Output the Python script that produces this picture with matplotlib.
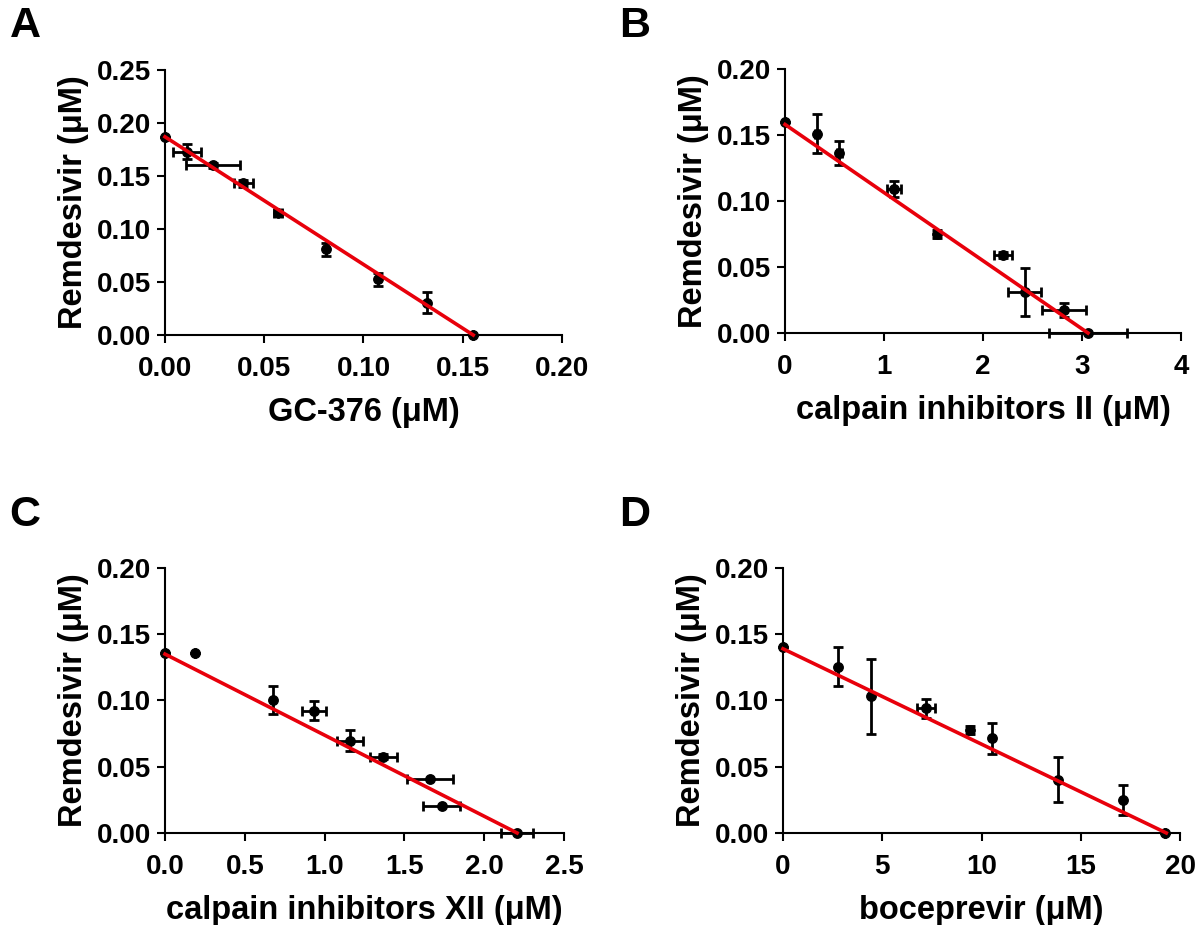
import matplotlib
matplotlib.use('Agg')
import matplotlib.pyplot as plt
from matplotlib.ticker import FormatStrFormatter, MultipleLocator

plt.rcParams['font.family'] = ['Liberation Sans', 'DejaVu Sans']
plt.rcParams['font.weight'] = 'bold'

# Panel A: GC-376
gc_x = [0.0, 0.0112, 0.0243, 0.0395, 0.0571, 0.081, 0.1075, 0.132, 0.1553]
gc_y = [0.187, 0.173, 0.160, 0.143, 0.1154, 0.0808, 0.0525, 0.0305, 0.0]
gc_xerr = [0.0, 0.0071, 0.0137, 0.0046, 0.002, 0.0, 0.0, 0.0, 0.0]
gc_yerr = [0.0, 0.007, 0.002, 0.003, 0.003, 0.006, 0.0063, 0.010, 0.0]
gc_fit = (0.187, 0.1553)   # y-intercept, x-intercept

# Panel B: calpain inhibitor II
c2_x = [0.0, 0.32, 0.55, 1.10, 1.53, 2.20, 2.42, 2.82, 3.06]
c2_y = [0.160, 0.151, 0.1366, 0.109, 0.075, 0.059, 0.031, 0.0174, 0.0]
c2_xerr = [0.0, 0.02, 0.03, 0.07, 0.03, 0.09, 0.17, 0.22, 0.39]
c2_yerr = [0.0, 0.0149, 0.009, 0.006, 0.003, 0.002, 0.018, 0.005, 0.0]
c2_fit = (0.158, 3.06)

# Panel C: calpain inhibitor XII
c12_x = [0.0, 0.189, 0.677, 0.933, 1.159, 1.369, 1.662, 1.734, 2.206]
c12_y = [0.136, 0.136, 0.1004, 0.0923, 0.0697, 0.0576, 0.0405, 0.0206, 0.0]
c12_xerr = [0.0, 0.0, 0.0, 0.075, 0.084, 0.084, 0.143, 0.117, 0.10]
c12_yerr = [0.0, 0.0, 0.0103, 0.0072, 0.0082, 0.002, 0.0, 0.0, 0.0]
c12_fit = (0.135, 2.206)

# Panel D: boceprevir
boc_x = [0.0, 2.79, 4.42, 7.19, 9.44, 10.54, 13.84, 17.13, 19.25]
boc_y = [0.140, 0.1256, 0.1031, 0.0941, 0.078, 0.0715, 0.0402, 0.0251, 0.0]
boc_xerr = [0.0, 0.0, 0.0, 0.46, 0.15, 0.0, 0.0, 0.0, 0.0]
boc_yerr = [0.0, 0.0146, 0.0284, 0.0072, 0.003, 0.0118, 0.017, 0.0112, 0.0]
boc_fit = (0.139, 19.3)

panels = [
    ('A', gc_x, gc_y, gc_xerr, gc_yerr, gc_fit, 'GC-376 (μM)',
     0.20, 0.05, '%.2f', 0.25, [0.1375, 0.6378, 0.3308, 0.2865]),
    ('B', c2_x, c2_y, c2_xerr, c2_yerr, c2_fit, 'calpain inhibitors II (μM)',
     4, 1, '%d', 0.20, [0.6542, 0.6400, 0.3300, 0.2854]),
    ('C', c12_x, c12_y, c12_xerr, c12_yerr, c12_fit, 'calpain inhibitors XII (μM)',
     2.5, 0.5, '%.1f', 0.20, [0.1375, 0.0995, 0.3325, 0.2865]),
    ('D', boc_x, boc_y, boc_xerr, boc_yerr, boc_fit, 'boceprevir (μM)',
     20, 5, '%d', 0.20, [0.6525, 0.0995, 0.3310, 0.2865]),
]
letter_pos = {'A': (0.008, 0.972), 'B': (0.516, 0.972),
              'C': (0.008, 0.443), 'D': (0.516, 0.443)}

fig = plt.figure(figsize=(12, 9.25), dpi=100)

for (lab, x, y, xe, ye, fit, xlabel, xmax, xstep, xfmt, ymax, rect) in panels:
    ax = fig.add_axes(rect)
    ax.errorbar(x, y, xerr=xe, yerr=ye, fmt='o', color='black',
                markersize=6.8, elinewidth=2, capsize=3.5, capthick=2,
                clip_on=False, zorder=3)
    ax.plot([0, fit[1]], [fit[0], 0], color='#e8000b', linewidth=2.6,
            zorder=4, clip_on=False)
    ax.set_xlim(0, xmax)
    ax.set_ylim(0, ymax)
    ax.xaxis.set_major_locator(MultipleLocator(xstep))
    ax.yaxis.set_major_locator(MultipleLocator(0.05))
    ax.xaxis.set_major_formatter(FormatStrFormatter(xfmt))
    ax.yaxis.set_major_formatter(FormatStrFormatter('%.2f'))
    for s in ['top', 'right']:
        ax.spines[s].set_visible(False)
    for s in ['left', 'bottom']:
        ax.spines[s].set_linewidth(1.5)
    ax.tick_params(direction='out', length=6, width=1.5, labelsize=20)
    ax.tick_params(axis='x', pad=9)
    ax.tick_params(axis='y', pad=4)
    for t in ax.get_xticklabels() + ax.get_yticklabels():
        t.set_fontweight('bold')
    ax.set_xlabel(xlabel, fontsize=23.5, fontweight='bold', labelpad=11)
    ax.set_ylabel('Remdesivir (μM)', fontsize=23.5, fontweight='bold', labelpad=6)
    fig.text(letter_pos[lab][0], letter_pos[lab][1], lab, fontsize=31,
             fontweight='bold', va='center', ha='left')

fig.savefig('out.png', dpi=100)
